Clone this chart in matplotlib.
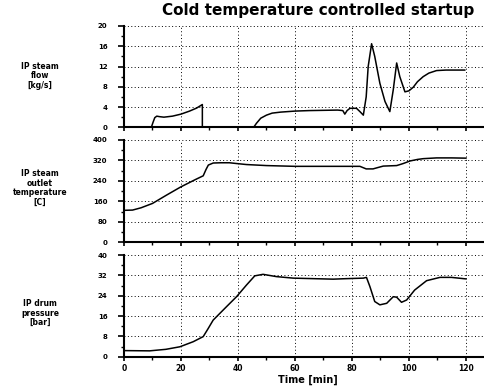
import matplotlib
matplotlib.use('Agg')
import matplotlib.pyplot as plt
from matplotlib.ticker import MultipleLocator

# ---------------- data ----------------
flow_t = [0, 9.6, 10.2, 10.8, 11.5, 12.5, 14, 17, 20, 23, 25.5, 27.5, 27.5, 35, 45.5,
          46.5, 48, 50, 52, 55, 60, 65, 70, 75, 76.8, 77.5, 78.3, 79.3, 81.6, 82.8, 84,
          85, 85.7, 86.9, 88, 89.8, 91.6, 93.3, 94.5, 95.7, 96.8, 98.6, 100, 101.5, 103,
          105, 107, 109.7, 113, 116, 119.6]
flow_v = [0, 0, 1.0, 1.9, 2.2, 2.1, 2.0, 2.2, 2.6, 3.2, 3.8, 4.5, 0, 0, 0,
          0.8, 1.8, 2.4, 2.8, 3.0, 3.2, 3.3, 3.35, 3.4, 3.3, 2.6, 3.3, 3.75, 3.75, 3.1, 2.4,
          6.0, 12.0, 16.5, 14.0, 8.7, 5.1, 3.1, 7.4, 12.7, 10.0, 7.0, 7.2, 7.9, 9.0,
          10.0, 10.7, 11.2, 11.3, 11.3, 11.3]

temp_t = [0, 3, 6, 10, 15, 20, 25, 27.8, 28.8, 29.6, 31.3, 34, 37, 39.5, 43, 50, 60, 70,
          80, 82.8, 85, 87.4, 89, 91, 95.7, 98, 100.4, 103, 105, 109.7, 115, 120]
temp_v = [125, 126, 135, 152, 185, 217, 245, 260, 285, 302, 310, 311, 311, 308, 304, 300,
          297, 297, 297, 297, 287, 287, 292, 298, 300, 308, 318, 324, 327, 330, 330, 329]

pres_t = [0, 9, 14.7, 19.6, 24.3, 27.8, 29.5, 31.3, 36, 39.5, 43, 45.9, 48.8, 53.5, 59.4,
          73.4, 78.1, 84, 85.1, 86.3, 88, 89.8, 92.2, 94.5, 95.7, 97.4, 99.2, 102, 106.2,
          110.9, 114.9, 120]
pres_v = [2.4, 2.3, 2.9, 3.9, 5.9, 7.9, 11.0, 14.4, 19.7, 23.6, 28.2, 31.8, 32.4, 31.5, 30.9,
          30.5, 30.7, 30.9, 31.2, 27.6, 21.7, 20.4, 21.0, 23.6, 23.4, 21.4, 22.3, 26.2, 29.9,
          31.2, 31.2, 30.6]

title = "Cold temperature controlled startup"
xlabel = "Time [min]"
ylabels = ["IP steam\nflow\n[kg/s]", "IP steam\noutlet\ntemperature\n[C]", "IP drum\npressure\n[bar]"]
ymaxes = [20, 400, 40]

# ---------------- figure ----------------
fig = plt.figure(figsize=(4.85, 3.9), dpi=100)
W, H = 485.0, 390.0
left = 124 / W
positions = [(26, 127.3), (140, 242.3), (255, 356.7)]
label_y = [76, 188, 313]

series = [(flow_t, flow_v), (temp_t, temp_v), (pres_t, pres_v)]
axes = []
for i, ((top, bot), (t, v), ymax) in enumerate(zip(positions, series, ymaxes)):
    ax = fig.add_axes([left, 1 - bot / H, 1 - left, (bot - top) / H])
    ax.plot(t, v, color='black', lw=1.1, zorder=3)
    ax.set_xlim(0, 126.7)
    ax.set_ylim(0, ymax)
    for s in ['top', 'right']:
        ax.spines[s].set_visible(False)
    for s in ['left', 'bottom']:
        ax.spines[s].set_linewidth(1.5)
    ax.xaxis.set_major_locator(MultipleLocator(20))
    ax.xaxis.set_minor_locator(MultipleLocator(10))
    ax.yaxis.set_major_locator(MultipleLocator(ymax / 5))
    ax.yaxis.set_minor_locator(MultipleLocator(ymax / 10))
    ax.tick_params(axis='y', which='major', direction='out', length=4, width=1.2,
                   labelsize=5, pad=8)
    ax.tick_params(axis='y', which='minor', direction='out', length=2, width=1.0)
    ax.tick_params(axis='x', which='major', direction='out', length=3, width=1.2,
                   labelsize=5.5, pad=2)
    ax.tick_params(axis='x', which='minor', direction='out', length=2, width=1.0)
    for lab in ax.get_yticklabels() + ax.get_xticklabels():
        lab.set_fontweight('bold')
    if i < 2:
        ax.tick_params(axis='x', labelbottom=False)
    ax.grid(True, which='major', linestyle=(0, (1, 2.5)), color='black', lw=0.7)
    ylines = ax.yaxis.get_gridlines()
    if len(ylines):
        ylines[-1].set_visible(False)
    ax.patch.set_alpha(0)
    fig.text(40 / W, 1 - label_y[i] / H, ylabels[i], ha='center', va='center',
             multialignment='center', fontsize=5.5, fontweight='bold', linespacing=1.1)
    axes.append(ax)

fig.text(318 / W, 1 - 10 / H, title, ha='center', va='center', fontsize=11,
         fontweight='bold')
fig.text(308 / W, 1 - 380 / H, xlabel, ha='center', va='center', fontsize=7,
         fontweight='bold')

fig.savefig('out.png', dpi=100)
